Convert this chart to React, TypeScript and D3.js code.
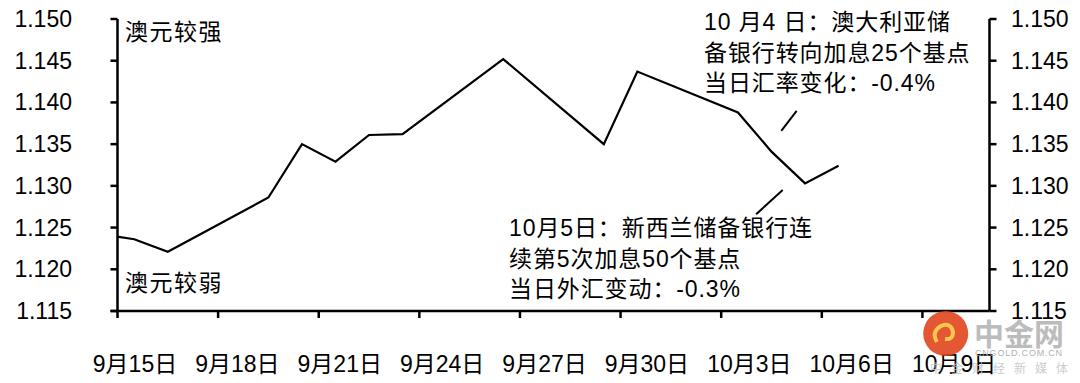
import React from "react";
import * as d3 from "d3";

const dates = ["2022-09-14","2022-09-15","2022-09-16","2022-09-19","2022-09-20","2022-09-21","2022-09-22","2022-09-23","2022-09-26","2022-09-29","2022-09-30","2022-10-03","2022-10-04","2022-10-05","2022-10-06"];
const values = [1.1242,1.1236,1.1221,1.1286,1.1350,1.1329,1.1361,1.1362,1.1452,1.1350,1.1437,1.1388,1.1341,1.1303,1.1324];
const yTicks = [1.115,1.12,1.125,1.13,1.135,1.14,1.145,1.15];
const xTickDates = ["2022-09-15","2022-09-18","2022-09-21","2022-09-24","2022-09-27","2022-09-30","2022-10-03","2022-10-06","2022-10-09"];
const xTickLabels = ["9月15日","9月18日","9月21日","9月24日","9月27日","9月30日","10月3日","10月6日","10月9日"];
const annoRBA = ["10 月4 日：澳大利亚储","备银行转向加息25个基点","当日汇率变化：-0.4%"];
const annoRBNZ = ["10月5日：新西兰储备银行连","续第5次加息50个基点","当日外汇变动：-0.3%"];
// leader lines: [day offset from 9/15, value] pairs
const leaderRBA = [[20.29,1.1390],[19.82,1.1366]];
const leaderRBNZ = [[19.86,1.1295],[19.05,1.1266]];

const FONT = "'Liberation Sans', Arial, 'Noto Sans CJK SC', sans-serif";

export default function App() {
  const W = 1080, H = 383;
  const parse = d3.timeParse("%Y-%m-%d");
  const start = parse("2022-09-15")!;
  const end = parse("2022-10-11")!;
  const left = 117.5, right = 989.5, top = 19, bottom = 311;
  const x = d3.scaleTime().domain([start, end]).range([left, right]);
  const xLab = d3.scaleTime().domain([start, end]).range([135, 135 + 26 * 34.13]);
  const y = d3.scaleLinear().domain([1.115, 1.15]).range([bottom, top]);
  const pts = dates.map((d, i) => [x(d3.timeHour.offset(parse(d)!, 12)), y(values[i])] as [number, number]);
  const line = d3.line()(pts) || "";
  const dayX = (d: number) => x(d3.timeHour.offset(start, d * 24));
  const fmt = d3.format(".3f");
  const sw = 2.5;
  return (
    <svg width={W} height={H} style={{ position: "absolute", left: 0, top: 0, background: "#fff" }} fontFamily={FONT}>
      <defs>
        <clipPath id="plot"><rect x={left} y={0} width={right - left} height={H} /></clipPath>
      </defs>
      <rect width={W} height={H} fill="#fff" />
      <line x1={left} x2={left} y1={top} y2={bottom} stroke="#000" strokeWidth={sw} />
      <line x1={right} x2={right} y1={top} y2={bottom} stroke="#000" strokeWidth={sw} />
      <line x1={left - 7} x2={right} y1={bottom} y2={bottom} stroke="#000" strokeWidth={sw} />
      {yTicks.map((t) => (
        <g key={t}>
          <line x1={left - 7} x2={left} y1={y(t)} y2={y(t)} stroke="#000" strokeWidth={sw} />
          <line x1={right} x2={right + 7} y1={y(t)} y2={y(t)} stroke="#000" strokeWidth={sw} />
          <text x={72} y={y(t) + 8} textAnchor="end" fontSize={23} fill="#000">{fmt(t)}</text>
          <text x={1011} y={y(t) + 8} textAnchor="start" fontSize={23} fill="#000">{fmt(t)}</text>
        </g>
      ))}
      {xTickDates.map((d, i) => (
        <g key={d}>
          <line x1={x(parse(d)!)} x2={x(parse(d)!)} y1={bottom} y2={bottom + 7} stroke="#000" strokeWidth={sw} />
          <text x={xLab(parse(d)!)} y={372} textAnchor="middle" fontSize={23} fill="#000">{xTickLabels[i]}</text>
        </g>
      ))}
      <path d={line} fill="none" stroke="#000" strokeWidth={2.2} clipPath="url(#plot)" strokeLinejoin="miter" />
      {[leaderRBA, leaderRBNZ].map((l, i) => (
        <line key={i} x1={dayX(l[0][0])} y1={y(l[0][1])} x2={dayX(l[1][0])} y2={y(l[1][1])} stroke="#000" strokeWidth={2} />
      ))}
      <text x={125} y={40} fontSize={23} letterSpacing={1.5} fill="#000">澳元较强</text>
      <text x={125} y={291} fontSize={23} letterSpacing={1.5} fill="#000">澳元较弱</text>
      {annoRBA.map((s, i) => (
        <text key={i} x={704} y={30 + i * 30.5} fontSize={23} letterSpacing={0.9} fill="#000">{s}</text>
      ))}
      {annoRBNZ.map((s, i) => (
        <text key={i} x={509} y={236 + i * 30.5} fontSize={23} letterSpacing={0.9} fill="#000">{s}</text>
      ))}
      <g opacity={0.9}>
        <circle cx={945.7} cy={333.5} r={22.5} fill="#e0451e" />
        <path d="M937,342 q-6,-10 4,-16 q10,-4 12,6 q0,8 -8,7" fill="none" stroke="#f7c13a" strokeWidth={4} />
        <text x={974} y={345} fontSize={30} fontWeight="bold" fill="#b5b5b5" fontFamily="'Noto Sans CJK SC', sans-serif">中金网</text>
        <text x={975} y={356} fontSize={9} fill="#aaa" letterSpacing={0.8}>CNGOLD.COM.CN</text>
        <text x={930} y={373} fontSize={12} fill="#c8c8c8" letterSpacing={9} fontFamily="'Noto Sans CJK SC', sans-serif">中金财经新媒体</text>
      </g>
    </svg>
  );
}
